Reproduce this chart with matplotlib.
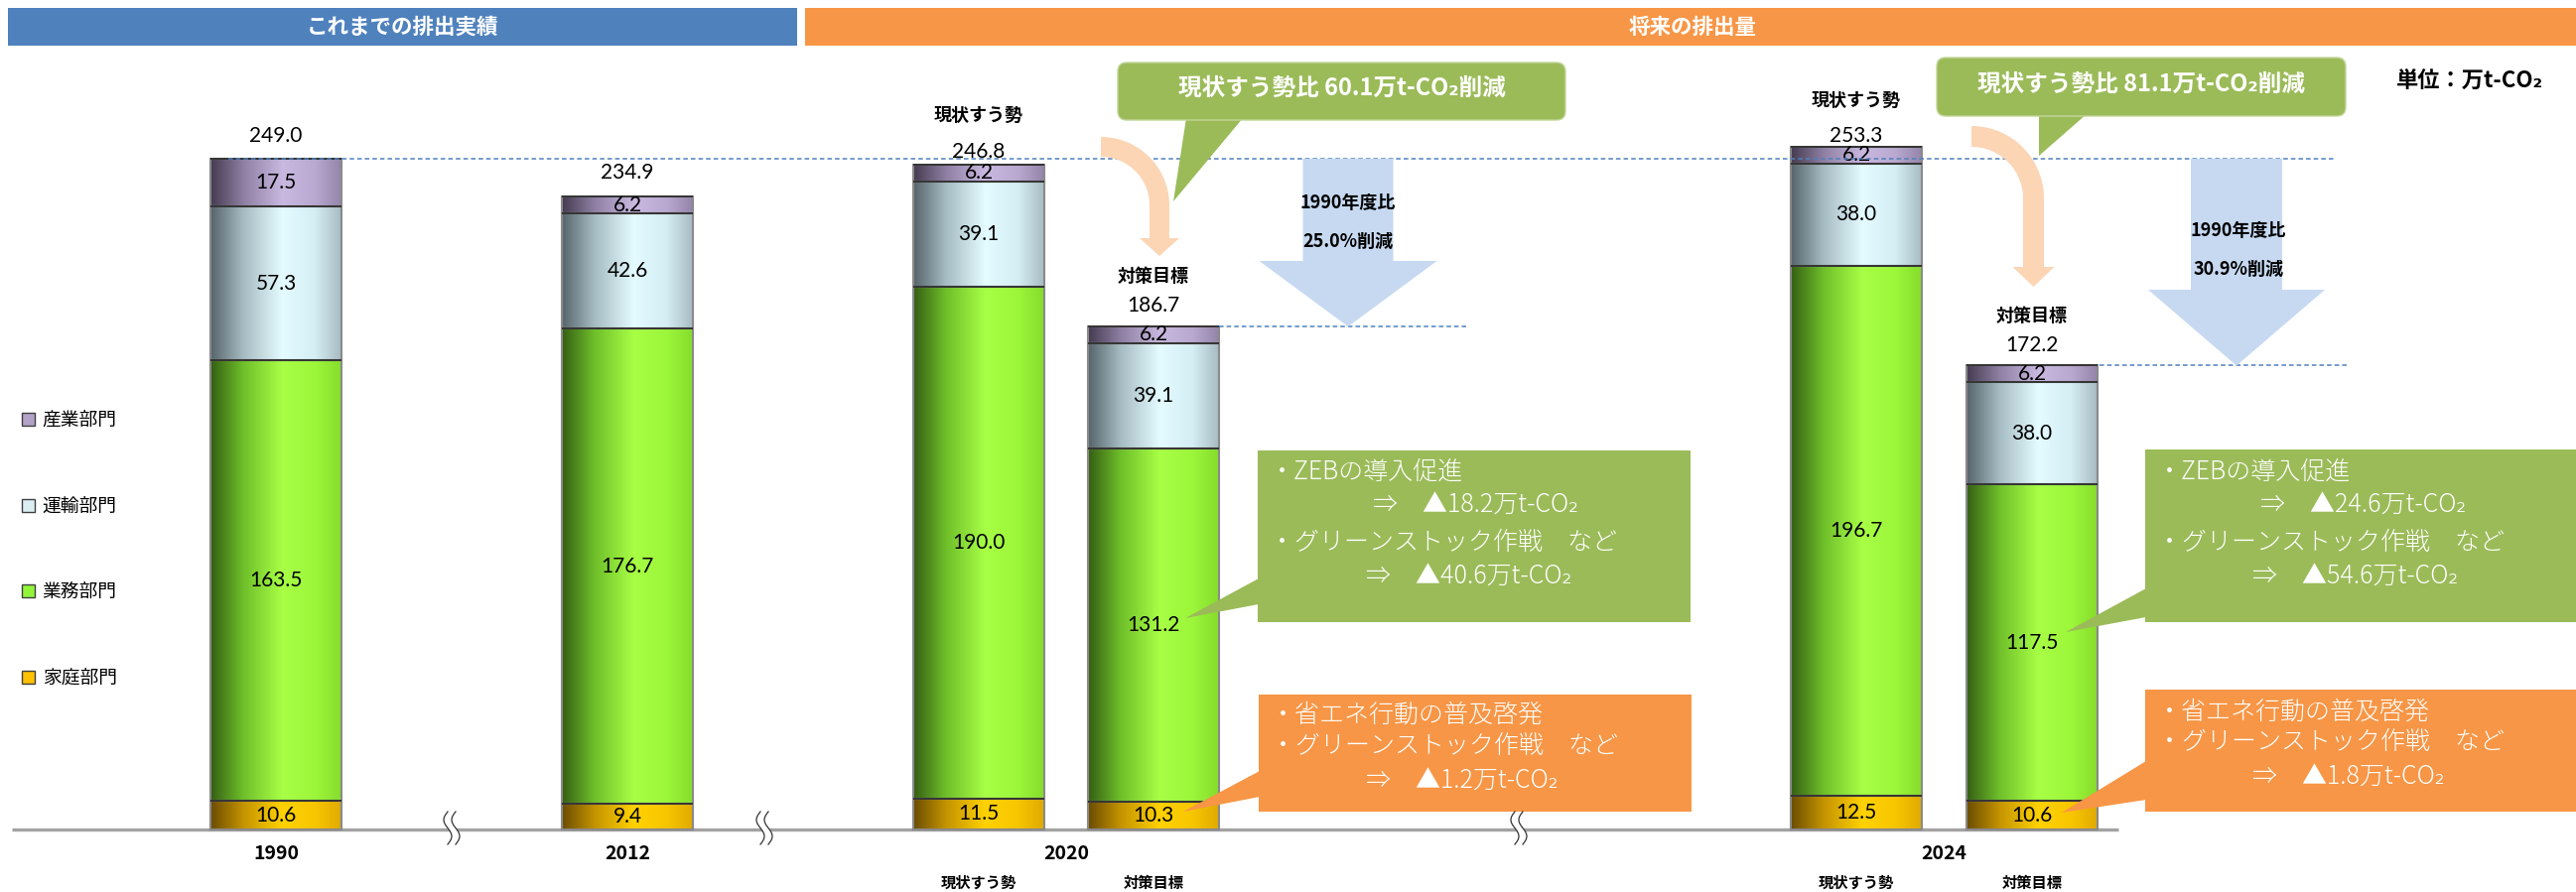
import matplotlib
matplotlib.use('Agg')
import matplotlib.pyplot as plt
import numpy as np
from matplotlib.patches import Patch, Polygon, FancyBboxPatch
from matplotlib.colors import LinearSegmentedColormap

plt.rcParams['font.family'] = ['Noto Sans CJK JP', 'DejaVu Sans']
NUM_FONT = ['Lato', 'DejaVu Sans']

# ---- data (万t-CO2) ----
cases = ['1990', '2012', '2020 現状すう勢', '2020 対策目標', '2024 現状すう勢', '2024 対策目標']
household = [10.6, 9.4, 11.5, 10.3, 12.5, 10.6]       # 家庭部門
business = [163.5, 176.7, 190.0, 131.2, 196.7, 117.5]  # 業務部門
transport = [57.3, 42.6, 39.1, 39.1, 38.0, 38.0]       # 運輸部門
industry = [17.5, 6.2, 6.2, 6.2, 6.2, 6.2]             # 産業部門
totals = [249.0, 234.9, 246.8, 186.7, 253.3, 172.2]
sector_names = ['家庭部門', '業務部門', '運輸部門', '産業部門']
years = ['1990', '2012', '2020', '2024']
cut_vs_1990 = ['25.0', '30.9']   # 1990年度比 削減率 %
zeb_cut = ['18.2', '24.6']
stock_cut = ['40.6', '54.6']
home_cut = ['1.2', '1.8']

# ---- layout (pixels) ----
W, H = 2595, 899
BASE = 836      # row of the zero line
PPU = 2.715     # pixels per 万t-CO2
bar_x = [278, 632, 986, 1162, 1870, 2047]
bar_w = 132
year_x = [278, 632, 1074, 1958]
total_gap = [23, 24, 13, 21, 11, 20]


def to_px(v):
    return BASE - v * PPU


fig = plt.figure(figsize=(W / 100, H / 100), dpi=100)
ax = fig.add_axes([0, 0, 1, 1])
ax.set_xlim(0, W)
ax.set_ylim(-(H - BASE) / PPU, BASE / PPU)
ax.set_autoscale_on(False)
ax.axis('off')

ov = fig.add_axes([0, 0, 1, 1], zorder=5)
ov.set_xlim(0, W)
ov.set_ylim(H, 0)
ov.axis('off')

# gradient colour maps, left (shadow) -> right
def shade(cols):
    return LinearSegmentedColormap.from_list('s', list(zip([0, 0.25, 0.55, 0.8, 1.0], cols)))

cmaps = [
    shade(['#6b4c00', '#c49300', '#ffd200', '#f8c600', '#e0aa00']),
    shade(['#355e14', '#6fbf2a', '#a8ff45', '#9cf63a', '#86dd2c']),
    shade(['#56646a', '#a6bcc3', '#e4fbff', '#d4eef4', '#a7bcc2']),
    shade(['#453b50', '#8e7fa3', '#c9b8e0', '#b9a8d0', '#9585aa']),
]
legend_cols = ['#ffc000', '#92f53a', '#dbeef4', '#b3a2c7']
grad = np.linspace(0, 1, 256).reshape(1, -1)

stack = [household, business, transport, industry]
bottoms = np.zeros(len(cases))
xs = np.array(bar_x)
for vals, cm in zip(stack, cmaps):
    rects = ax.bar(bar_x, vals, bar_w, bottom=bottoms, facecolor='none',
                   edgecolor='#8a8a8a', lw=1.5, zorder=3)
    for r in rects:
        im = ax.imshow(grad, cmap=cm, aspect='auto', interpolation='bilinear', zorder=2,
                       extent=(r.get_x(), r.get_x() + r.get_width(), r.get_y(), r.get_y() + r.get_height()))
        im.set_clip_path(r)
    for x, v, b in zip(bar_x, vals, bottoms):
        ax.text(x, b + v / 2, f'{v:.1f}', ha='center', va='center', fontsize=15,
                family=NUM_FONT, zorder=5)
    bottoms = bottoms + np.array(vals)
    ax.hlines(bottoms, xs - bar_w / 2, xs + bar_w / 2, color='#2e2e2e', lw=1.3, zorder=4)

# totals and scenario names
for i, (x, t) in enumerate(zip(bar_x, totals)):
    y = to_px(t) - total_gap[i]
    ov.text(x, y, f'{t:.1f}', ha='center', va='center', fontsize=15, family=NUM_FONT)
    if i in (2, 4):
        ov.text(x, y - 36, '現状すう勢', ha='center', va='center', fontsize=13, fontweight='bold')
    if i in (3, 5):
        ov.text(x, y - 30, '対策目標', ha='center', va='center', fontsize=13, fontweight='bold')

# base line and x labels
ax.plot([12, 2134], [0, 0], color='#a3a3a3', lw=2.4, zorder=1, solid_capstyle='butt')
for x, yr in zip(year_x, years):
    ov.text(x, 861, yr, ha='center', va='center', fontsize=14, fontweight='bold')
for i in (2, 4):
    ov.text(bar_x[i], 890, '現状すう勢', ha='center', va='center', fontsize=11, fontweight='bold')
    ov.text(bar_x[i + 1], 890, '対策目標', ha='center', va='center', fontsize=11, fontweight='bold')

# axis break marks
for xc in (455, 770, 1530):
    yy = np.linspace(818, 851, 40)
    s = (yy - 818) / 33
    xx = xc - 4 * np.sin(2 * np.pi * s)
    ov.fill_betweenx(yy, xx - 4, xx + 4, color='white', lw=0)
    ov.plot(xx - 4, yy, color='#333333', lw=0.9)
    ov.plot(xx + 4, yy, color='#333333', lw=0.9)

# dashed reference levels
dash = dict(color='#4f81bd', lw=1.1, ls=(0, (3, 2)), zorder=6)
ax.plot([230, 2353], [totals[0]] * 2, **dash)
ax.plot([1228, 1478], [totals[3]] * 2, **dash)
ax.plot([2115, 2365], [totals[5]] * 2, **dash)

# header bands
ov.add_patch(plt.Rectangle((8, 8), 795, 38, color='#4f81bd', lw=0))
ov.add_patch(plt.Rectangle((811, 8), W - 811, 38, color='#f79646', lw=0))
ov.text(405, 27, 'これまでの排出実績', color='white', ha='center', va='center', fontsize=15.5, fontweight='bold')
ov.text(1705, 27, '将来の排出量', color='white', ha='center', va='center', fontsize=15.5, fontweight='bold')
ov.text(2414, 82, '単位：万t-CO₂', ha='left', va='center', fontsize=16, fontweight='bold')


# peach curved arrows
def curved_arrow(cx, top, R, r, shaft_end, head_half, tip):
    t = np.linspace(0, np.pi / 2, 40)
    cy = top + R
    outer = np.c_[cx + R * np.sin(t), cy - R * np.cos(t)]
    inner = np.c_[cx + r * np.sin(t), cy - r * np.cos(t)][::-1]
    mid = cx + (R + r) / 2
    head = np.array([(cx + R, shaft_end), (mid + head_half, shaft_end), (mid, tip),
                     (mid - head_half, shaft_end), (cx + r, shaft_end)])
    ov.add_patch(Polygon(np.vstack([outer, head, inner]), closed=True, fc='#fcd5b4', lw=0))


curved_arrow(1109, 138, 69, 49, 240, 20, 258)
curved_arrow(1986, 127, 73, 52, 269, 21, 289)


# light blue arrows from the 1990 level to each target
def down_arrow(xc, shaft_w, head_w, head_top, y_from, y_to):
    pts = [(xc - shaft_w / 2, to_px(y_from)), (xc + shaft_w / 2, to_px(y_from)),
           (xc + shaft_w / 2, head_top), (xc + head_w / 2, head_top), (xc, to_px(y_to)),
           (xc - head_w / 2, head_top), (xc - shaft_w / 2, head_top)]
    ov.add_patch(Polygon(pts, closed=True, fc='#c6d9f1', lw=0))


down_arrow(1358, 91, 179, 263, totals[0], totals[3])
down_arrow(2253, 92, 178, 292, totals[0], totals[5])
for xc, y, pct in [(1358, 205, cut_vs_1990[0]), (2255, 233, cut_vs_1990[1])]:
    ov.text(xc, y, '1990年度比', ha='center', va='center', fontsize=13, fontweight='bold')
    ov.text(xc, y + 38, f'{pct}%削減', ha='center', va='center', fontsize=13, fontweight='bold')


# green speech bubbles at the top
def top_bubble(x0, y0, x1, y1, tail, text):
    ov.add_patch(Polygon(tail, closed=True, fc='#9bbb59', lw=0))
    ov.add_patch(FancyBboxPatch((x0, y0), x1 - x0, y1 - y0, boxstyle='round,pad=0,rounding_size=9',
                                fc='#9bbb59', ec='#c3d69b', lw=1))
    ov.text((x0 + x1) / 2, (y0 + y1) / 2 - 3, text, color='white', ha='center', va='center',
            fontsize=17, fontweight='bold')


top_bubble(1126, 63, 1577, 121, [(1195, 119), (1252, 119), (1182, 203)],
           f'現状すう勢比 {totals[2] - totals[3]:.1f}万t-CO₂削減')
top_bubble(1951, 58, 2363, 117, [(2054, 115), (2102, 115), (2054, 157)],
           f'現状すう勢比 {totals[4] - totals[5]:.1f}万t-CO₂削減')


# measure boxes pointing into the bars
def side_box(x0, y0, x1, y1, tail, color, lines):
    ov.add_patch(Polygon(tail, closed=True, fc=color, lw=0))
    ov.add_patch(plt.Rectangle((x0, y0), x1 - x0, y1 - y0, fc=color, lw=0))
    for dx, y, s in lines:
        ov.text(x0 + dx, y, s, color='white', ha='left', va='center', fontsize=18, fontweight='light')


GREEN, ORANGE = '#9bbb59', '#f79646'
side_box(1267, 454, 1703, 627, [(1268, 583), (1268, 609), (1194, 623)], GREEN, [
    (12, 475, '・ZEBの導入促進'),
    (116, 508, f'⇒　▲{zeb_cut[0]}万t-CO₂'),
    (12, 547, '・グリーンストック作戦　など'),
    (109, 580, f'⇒　▲{stock_cut[0]}万t-CO₂')])
side_box(1268, 700, 1704, 818, [(1269, 777), (1269, 803), (1192, 818)], ORANGE, [
    (12, 720, '・省エネ行動の普及啓発'),
    (12, 752, '・グリーンストック作戦　など'),
    (108, 787, f'⇒　▲{home_cut[0]}万t-CO₂')])
side_box(2161, 453, W, 627, [(2162, 593), (2162, 622), (2081, 637)], GREEN, [
    (12, 475, '・ZEBの導入促進'),
    (116, 508, f'⇒　▲{zeb_cut[1]}万t-CO₂'),
    (12, 547, '・グリーンストック作戦　など'),
    (108, 580, f'⇒　▲{stock_cut[1]}万t-CO₂')])
side_box(2161, 695, W, 818, [(2162, 767), (2162, 806), (2077, 819)], ORANGE, [
    (12, 717, '・省エネ行動の普及啓発'),
    (12, 748, '・グリーンストック作戦　など'),
    (108, 783, f'⇒　▲{home_cut[1]}万t-CO₂')])

# legend (top to bottom: 産業, 運輸, 業務, 家庭)
handles = [Patch(facecolor=c, edgecolor='#404040', lw=1) for c in legend_cols[::-1]]
fig.legend(handles, sector_names[::-1], loc='upper left', bbox_to_anchor=(22 / W, 1 - 413 / H),
           frameon=False, fontsize=13.5, labelspacing=3.5, handlelength=0.7, handleheight=0.7,
           handletextpad=0.4, borderpad=0, borderaxespad=0)

fig.savefig('out.png', dpi=100)
